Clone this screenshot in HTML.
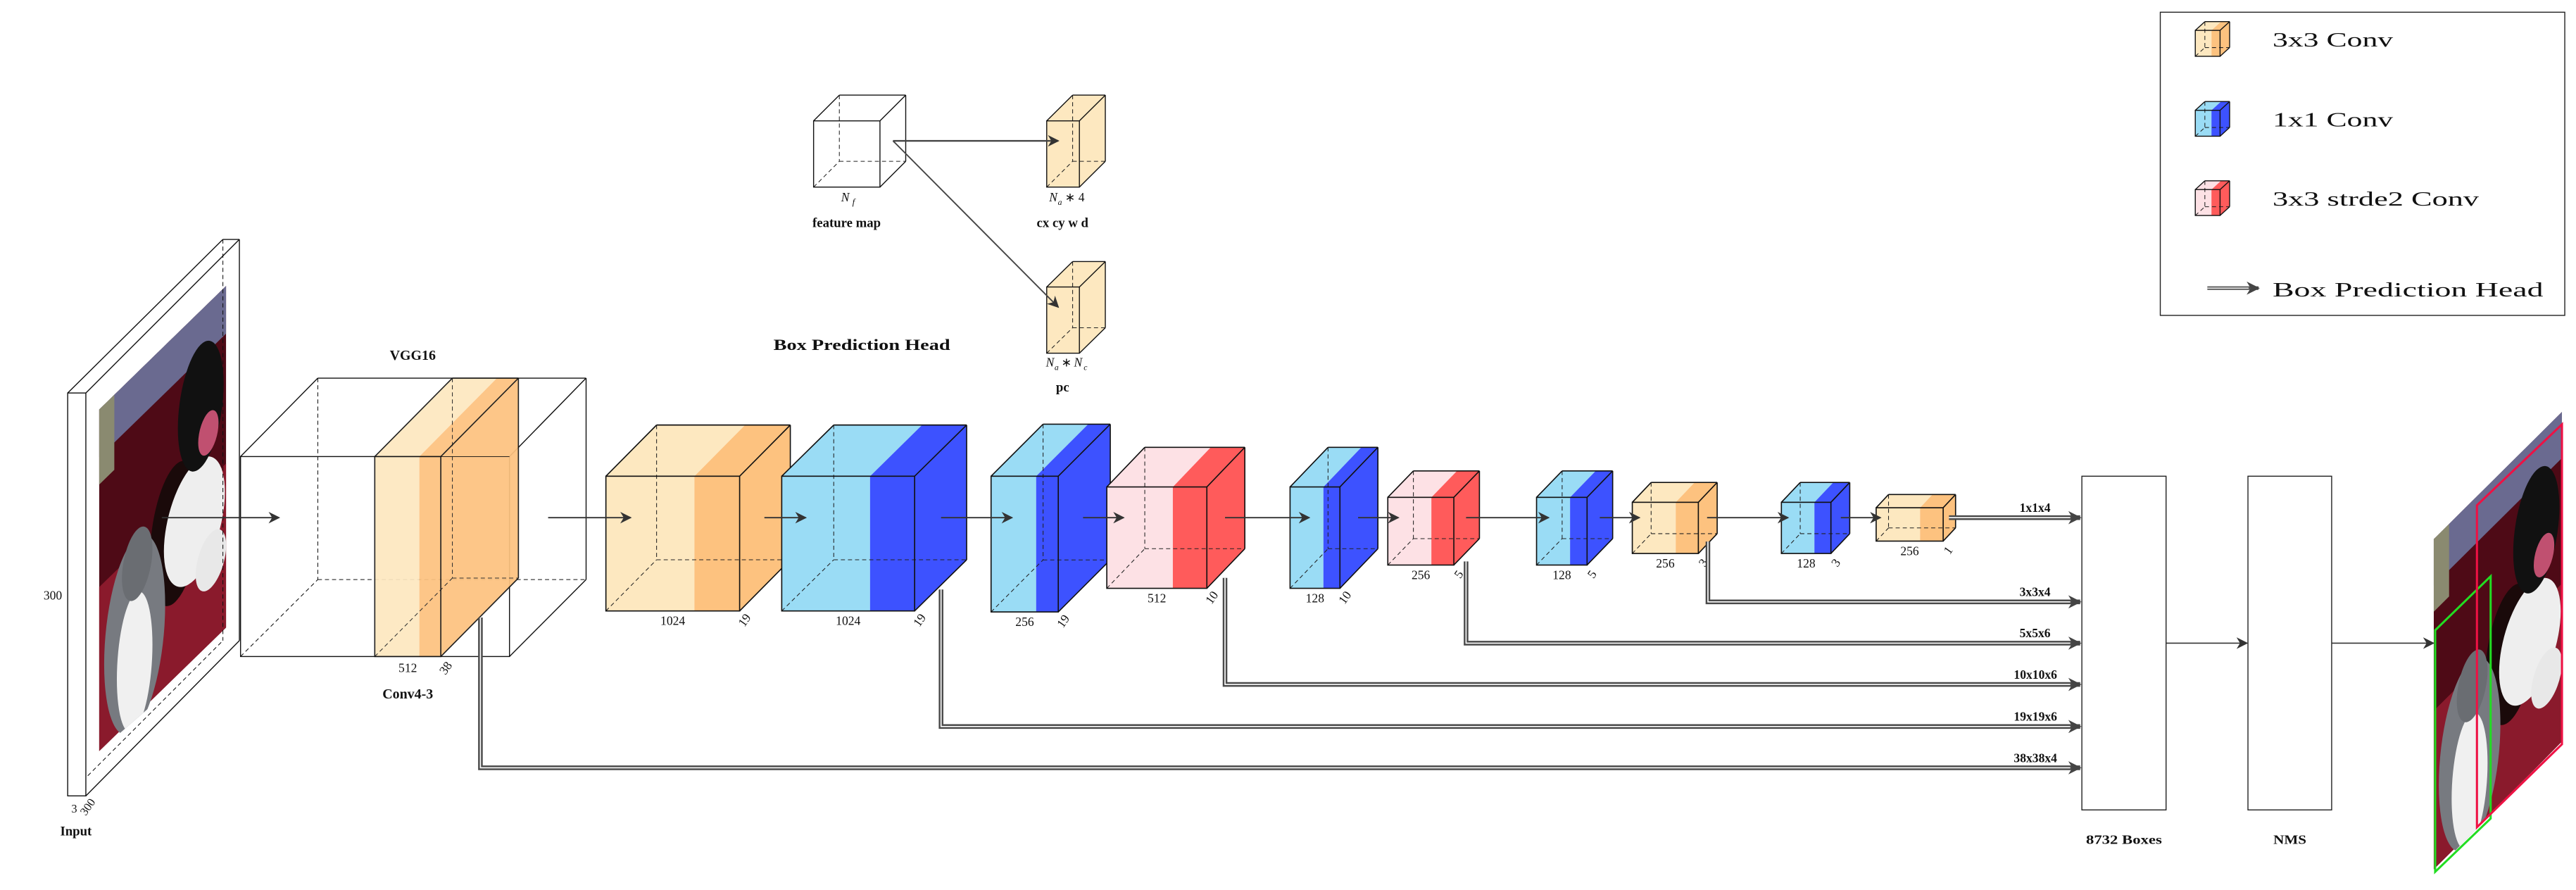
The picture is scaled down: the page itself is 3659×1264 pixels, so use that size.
<!DOCTYPE html>
<html><head><meta charset="utf-8"><title>SSD architecture</title>
<style>
html,body{margin:0;padding:0;background:#fff;}
svg{display:block;}
text{font-family:"Liberation Serif",serif;fill:#111;}
</style></head>
<body>
<svg id="fig" xmlns="http://www.w3.org/2000/svg" width="3659" height="1264" viewBox="0 0 1560.3 539" preserveAspectRatio="none">
<defs>
<marker id="ah" viewBox="0 0 10 10" refX="9" refY="5" markerWidth="7" markerHeight="7" markerUnits="userSpaceOnUse" orient="auto"><path d="M0,0 L10,5 L0,10 L3,5 Z" fill="#333"/></marker>
<marker id="ah2" viewBox="0 0 10 10" refX="9" refY="5" markerWidth="8" markerHeight="8" markerUnits="userSpaceOnUse" orient="auto"><path d="M0,0 L10,5 L0,10 L3,5 Z" fill="#444"/></marker>
<clipPath id="clipIn"><polygon points="60,248 137,173 137,388 60,455"/></clipPath>
<clipPath id="clipOut"><polygon points="1474.1,326.5 1551.8,249.4 1551.8,449 1474.1,528.5"/></clipPath>
<g id="photoContent">
<rect x="0" y="0" width="100" height="100" fill="#4e0a16"/>
<rect x="0" y="0" width="100" height="14" fill="#6a6a90"/>
<rect x="0" y="0" width="12" height="22" fill="#8a8a70"/>
<rect x="0" y="52" width="100" height="48" fill="#8a1a2c"/>
<ellipse cx="60" cy="58" rx="20" ry="20" fill="#1a0a0a"/>
<ellipse cx="75" cy="60" rx="24" ry="17" fill="#eeeeee"/>
<ellipse cx="80" cy="28" rx="18" ry="18" fill="#111"/>
<ellipse cx="86" cy="38" rx="8" ry="6" fill="#c05070"/>
<ellipse cx="88" cy="76" rx="12" ry="8" fill="#e8e8e8"/>
<ellipse cx="28" cy="76" rx="24" ry="28" fill="#777a80"/>
<ellipse cx="28" cy="84" rx="14" ry="20" fill="#f0f0f0"/>
<ellipse cx="30" cy="56" rx="12" ry="10" fill="#6a6d72"/>
</g>
</defs>
<g id="root"></g>
</svg>
<script>
// ---- layer data ----
const layerTypes = ['o','b','b','r','b','r','b','o','b','o'];
const widthLabels = ['1024','1024','256','512','128','256','128','256','128','256'];
const depthLabels = ['19','19','19','10','10','5','5','3','3','1'];
const predLabels = ['1x1x4','3x3x4','5x5x6','10x10x6','19x19x6','38x38x4'];
const legendLabels = ['3x3 Conv','1x1 Conv','3x3 strde2 Conv','Box Prediction Head'];

// geometry (layout, not data)
const geom = [
 [367,420.6,448,288.4,370,30.7,31],
 [473.5,527,554,288.4,370,31.5,31],
 [600.3,627.6,641,288.4,370.6,31.5,31.5],
 [670.4,710.4,731,294.9,356.3,23,24],
 [781.4,801.6,811.6,294.9,356.3,23,24],
 [840.6,867,880.6,301.2,342.2,15.5,16],
 [930.7,951,961.3,301.2,342.2,15.5,16],
 [988.7,1015,1028.7,304.2,335.2,11.4,12],
 [1079,1099,1109,304.2,335.2,11.4,12],
 [1136.4,1163,1177,307.5,327.7,7.5,8]
];
const colors = {o:['#fde8c0','#fdc27f'], b:['#9adcf5','#3d52ff'], r:['#fde1e5','#ff5b5b']};
const NS='http://www.w3.org/2000/svg';
const root=document.getElementById('root');
function el(tag,attrs,parent){const e=document.createElementNS(NS,tag);for(const k in attrs)e.setAttribute(k,attrs[k]);(parent||root).appendChild(e);return e;}
function txt(s,x,y,size,opts,parent){opts=opts||{};const t=el('text',{x:x,y:y,'font-size':size,'text-anchor':opts.anchor||'middle'},parent);if(opts.bold)t.setAttribute('font-weight','bold');if(opts.italic)t.setAttribute('font-style','italic');if(opts.tl){t.setAttribute('textLength',opts.tl);t.setAttribute('lengthAdjust','spacingAndGlyphs');}if(opts.rot)t.setAttribute('transform','rotate('+opts.rot+' '+x+' '+y+')');t.textContent=s;return t;}
function poly(pts,fill,parent,extra){return el('polygon',Object.assign({points:pts.map(q=>q.join(',')).join(' '),fill:fill,stroke:'none'},extra||{}),parent);}
function line(x1,y1,x2,y2,parent,extra){return el('line',Object.assign({x1:x1,y1:y1,x2:x2,y2:y2,stroke:'#111','stroke-width':0.6},extra||{}),parent);}
function cube(g,x0,xs,x1,yT,yB,dx,dy,c1,c2,sw){
  sw=sw||0.6;
  const dash={'stroke-dasharray':'2.5,1.8','stroke-width':0.45,stroke:'#222'};
  poly([[x0,yT],[xs,yT],[xs,yB],[x0,yB]],c1,g);
  poly([[xs,yT],[x1,yT],[x1,yB],[xs,yB]],c2,g);
  poly([[x0,yT],[xs,yT],[xs+dx,yT-dy],[x0+dx,yT-dy]],c1,g);
  poly([[xs,yT],[x1,yT],[x1+dx,yT-dy],[xs+dx,yT-dy]],c2,g);
  poly([[x1,yT],[x1+dx,yT-dy],[x1+dx,yB-dy],[x1,yB]],c2,g);
  line(x0+dx,yT-dy,x0+dx,yB-dy,g,dash);
  line(x0+dx,yB-dy,x1+dx,yB-dy,g,dash);
  line(x0,yB,x0+dx,yB-dy,g,dash);
  const s={'stroke-width':sw};
  el('rect',{x:x0,y:yT,width:x1-x0,height:yB-yT,fill:'none',stroke:'#111','stroke-width':sw},g);
  line(x0,yT,x0+dx,yT-dy,g,s);line(x1,yT,x1+dx,yT-dy,g,s);
  line(x0+dx,yT-dy,x1+dx,yT-dy,g,s);line(x1+dx,yT-dy,x1+dx,yB-dy,g,s);
  line(x1,yB,x1+dx,yB-dy,g,s);
}

// ---- input slab + photo ----
const inp=el('g',{});


poly([[41,238],[52,238],[145,145],[135,145]],'#fff',inp);
poly([[52,238],[145,145],[145,388],[52,482]],'#fff',inp);
const ph=el('g',{'clip-path':'url(#clipIn)'},inp);
el('use',{href:'#photoContent',transform:'matrix(0.77,-0.75,0,2.07,60,248)'},ph);
line(135,145,135,388,inp,{'stroke-dasharray':'2.5,1.8','stroke-width':0.45});
line(41,482,135,388,inp,{'stroke-dasharray':'2.5,1.8','stroke-width':0.45});
el('rect',{x:41,y:238,width:11,height:244,fill:'#fff',stroke:'#111','stroke-width':0.6},inp);
line(41,238,135,145,inp);line(52,238,145,145,inp);line(135,145,145,145,inp);
line(145,145,145,388,inp);line(52,482,145,388,inp);
txt('300',32,363,7.5,{},inp);
txt('3',45,492,7,{},inp);
txt('300',55,490,7,{rot:-55},inp);
const inLbl=txt('Input',46,506,8,{bold:true},inp);



// ---- VGG16 block ----
const vg=el('g',{});


const d1={'stroke-dasharray':'2.5,1.8','stroke-width':0.45};
line(192.5,229,192.5,351,vg,d1);line(192.5,351,355,351,vg,d1);line(145.7,397.6,192.5,351,vg,d1);
el('rect',{x:145.7,y:276.5,width:162.9,height:121.1,fill:'none',stroke:'#111','stroke-width':0.6},vg);
line(145.7,276.5,192.5,229,vg);line(192.5,229,355,229,vg);line(308.6,276.5,355,229,vg);
line(355,229,355,351,vg);line(308.6,397.6,355,351,vg);
const slab=el('g',{opacity:0.93},vg);
cube(slab,227,254,267,276.5,397.6,47,47.5,colors.o[0],colors.o[1],0.7);
line(267,276.5,308.6,276.5,vg,{'stroke-width':0.4});
txt('VGG16',250,218,8.5,{bold:true},vg);
txt('512',247,407,7.5,{},vg);
txt('38',272,406,7.5,{rot:-55},vg);
const c43=txt('Conv4-3',247,423,8.5,{bold:true},vg);



// ---- extra layers ----
geom.forEach((gm,i)=>{
  const g=el('g',{});
  
  
  const c=colors[layerTypes[i]];
  cube(g,gm[0],gm[1],gm[2],gm[3],gm[4],gm[5],gm[6],c[0],c[1],0.7);
  txt(widthLabels[i],(gm[0]+gm[2])/2,gm[4]+8.5,7.5,{},g);
  txt(depthLabels[i],gm[2]+5,gm[4]+7,7.5,{rot:-55},g);
});

// ---- main flow arrows ----
const arrows=[[98,169],[332,382],[463,488],[570,613],[656,680.6],[742,793],[822.6,847],[888,938],[969,993],[1034,1083],[1115,1139]];
arrows.forEach((a,i)=>{
  const l=line(a[0],313.5,a[1],313.5,root,{stroke:'#333','stroke-width':0.8,'marker-end':'url(#ah)'});
  
  
});

// ---- box prediction head paths ----
const predPaths=['M1180.5,313.5 H1260','M1034.5,328 V364.5 H1260','M888,340 V389.5 H1260','M742,350 V414.5 H1260','M570,357 V440 H1260','M291,374 V465 H1260'];
const predY=[313.5,364.5,389.5,414.5,440,465];
const predEnd=[1242,1242,1242,1246,1246,1246];
predPaths.forEach((d,i)=>{
  const g=el('g',{});
  
  
  el('path',{d:d,fill:'none',stroke:'#4a4a4a','stroke-width':2.8,'marker-end':'url(#ah2)'},g);
  el('path',{d:d.replace('H1260','H1254'),fill:'none',stroke:'#fff','stroke-width':0.7},g);
  txt(predLabels[i],predEnd[i],predY[i]-3.5,7.5,{anchor:'end',bold:true},g);
});

// ---- boxes & NMS ----
const bx=el('rect',{x:1261,y:288.4,width:51,height:202.1,fill:'#fff',stroke:'#222','stroke-width':0.6});


const nms=el('rect',{x:1361.6,y:288.4,width:50.7,height:202.1,fill:'#fff',stroke:'#222','stroke-width':0.6});


txt('8732 Boxes',1286.5,511,7.5,{bold:true,tl:46});
txt('NMS',1387,511,7.5,{bold:true,tl:20});
const a1=line(1312,389.5,1361,389.5,root,{stroke:'#333','stroke-width':0.7,'marker-end':'url(#ah)'});


const a2=line(1412.3,389.5,1474,389.5,root,{stroke:'#333','stroke-width':0.7,'marker-end':'url(#ah)'});



// ---- output image ----
const out=el('g',{});


const oc=el('g',{'clip-path':'url(#clipOut)'},out);
el('use',{href:'#photoContent',transform:'matrix(0.777,-0.771,0,2.0,1474.1,326.5)'},oc);
poly([[1475,381.7],[1508.6,349],[1508.6,495.7],[1475,528]],'none',out,{stroke:'#22dd22','stroke-width':1.3});
poly([[1500.3,306],[1551.8,257],[1551.8,450.7],[1500.3,501]],'none',out,{stroke:'#ee1144','stroke-width':1.3});

// ---- top detail: box prediction head ----
const bp=el('g',{});


cube(bp,492.8,533,533,73.2,113.3,15.6,15.6,'#fff','#fff',0.6);
cube(bp,634,653.8,653.8,73.2,113.3,15.7,15.6,'#fde8c0','#fde8c0',0.6);
cube(bp,634,653.8,653.8,173.8,213.9,15.7,15.4,'#fde8c0','#fde8c0',0.6);
line(540.9,85.3,641,85.3,bp,{stroke:'#444','stroke-width':1.0,'marker-end':'url(#ah)'});
line(540.9,85.3,641,186,bp,{stroke:'#444','stroke-width':0.8,'marker-end':'url(#ah)'});
txt('N',512,122,7.5,{italic:true},bp);
txt('f',517,124,5.5,{italic:true},bp);
txt('feature map',512.8,137.6,8,{bold:true},bp);
txt('N',638,122,7.5,{italic:true},bp);
txt('a',642,124,5,{italic:true},bp);
txt('∗ 4',651,122,7.5,{},bp);
txt('cx cy w d',643.6,137.6,8,{bold:true},bp);
txt('N',636,222,7.5,{italic:true},bp);
txt('a',640,224,5,{italic:true},bp);
txt('∗',646,222,7.5,{},bp);
txt('N',653,222,7.5,{italic:true},bp);
txt('c',657.5,224,5,{italic:true},bp);
txt('pc',643.6,237,8,{bold:true},bp);
const bph=txt('Box Prediction Head',522,212,9.5,{bold:true,tl:107});



// ---- legend ----
const lg=el('g',{});


el('rect',{x:1308.5,y:7.4,width:245,height:183.6,fill:'#fff',stroke:'#222','stroke-width':0.6},lg);
const legTypes=['o','b','r'];
const legY=[34.1,82.5,130.5];
const legTL=[73,73,125];
legTypes.forEach((t,i)=>{
  const g=el('g',{},lg);
  
  
  cube(g,1329.7,1339.5,1344.7,legY[i]-15.7,legY[i],5.8,5.3,colors[t][0],colors[t][1],0.6);
  txt(legendLabels[i],1376.5,legY[i]-6,12,{anchor:'start',tl:legTL[i]},g);
});
const g4=el('g',{},lg);


el('path',{d:'M1337,174.5 H1368',fill:'none',stroke:'#555','stroke-width':2.2,'marker-end':'url(#ah2)'},g4);
el('path',{d:'M1337,174.5 H1362',fill:'none',stroke:'#fff','stroke-width':0.6},g4);
txt(legendLabels[3],1376.5,179.5,12,{anchor:'start',tl:164},g4);
</script>
</body></html>
